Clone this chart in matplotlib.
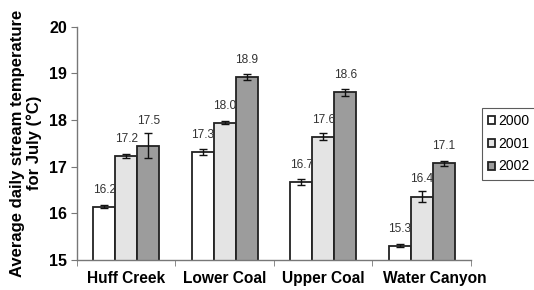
import numpy as np
import matplotlib
matplotlib.use('Agg')
import matplotlib.pyplot as plt
from matplotlib.transforms import ScaledTranslation

plt.rcParams['font.family'] = ['Liberation Sans', 'DejaVu Sans']

sites = ['Huff Creek', 'Lower Coal', 'Upper Coal', 'Water Canyon']
years = ['2000', '2001', '2002']
temp_2000 = [16.14, 17.31, 16.67, 15.31]
temp_2001 = [17.22, 17.94, 17.64, 16.36]
temp_2002 = [17.45, 18.92, 18.59, 17.07]
err_2000 = [0.03, 0.06, 0.07, 0.04]
err_2001 = [0.04, 0.03, 0.08, 0.11]
err_2002 = [0.27, 0.07, 0.08, 0.05]
labels_2000 = ['16.2', '17.3', '16.7', '15.3']
labels_2001 = ['17.2', '18.0', '17.6', '16.4']
labels_2002 = ['17.5', '18.9', '18.6', '17.1']

temps = [temp_2000, temp_2001, temp_2002]
errs = [err_2000, err_2001, err_2002]
labels = [labels_2000, labels_2001, labels_2002]
colors = ['white', '#e4e4e4', '#9c9c9c']

fig = plt.figure(figsize=(5.34, 2.90), dpi=100)
ax = fig.add_axes([0.144, 0.1034, 0.738, 0.805])

x = np.arange(len(sites))
w = 0.223
px = 5 / (0.805 * 290)  # data units per pixel on y

for i in range(3):
    pos = x + (i - 1) * w
    ax.bar(pos, temps[i], w, bottom=0, color=colors[i], edgecolor='#222222',
           linewidth=1.3, label=years[i], zorder=2)
    ax.errorbar(pos, temps[i], yerr=errs[i], fmt='none', ecolor='#111111',
                elinewidth=1.0, capsize=3.2, capthick=1.0, zorder=3)
    for j in range(len(sites)):
        yl = max(temps[i][j] + 17 * px, temps[i][j] + errs[i][j] + 12 * px)
        ax.text(pos[j], yl, labels[i][j], ha='center', va='center',
                fontsize=8.6, color='#333333')

ax.set_ylim(15, 20)
ax.set_xlim(-0.5, 3.5)
ax.set_yticks([15, 16, 17, 18, 19, 20])
ax.set_xticks(x)
ax.set_xticklabels(sites, fontsize=11.2, fontweight='bold')
ax.set_xticks(np.arange(-0.5, 4, 1), minor=True)
ax.tick_params(axis='x', which='major', length=0, pad=8)
ax.tick_params(axis='x', which='minor', length=4, color='#777777', direction='out')
ax.tick_params(axis='y', length=4, color='#777777', labelsize=11.5, pad=3)
for t in ax.get_yticklabels():
    t.set_fontweight('bold')
# last label sits a bit right of its group in the original
wc = ax.get_xticklabels()[3]
wc.set_transform(wc.get_transform() + ScaledTranslation(0.13, 0, fig.dpi_scale_trans))

for s in ['top', 'right']:
    ax.spines[s].set_visible(False)
for s in ['left', 'bottom']:
    ax.spines[s].set_color('#777777')
    ax.spines[s].set_linewidth(1.0)

ax.set_ylabel('Average daily stream temperature\nfor July (\u00b0C)', fontsize=12,
              fontweight='bold', linespacing=1.15, labelpad=5)

leg = fig.legend(loc='upper left', bbox_to_anchor=(482 / 534, 1 - 108 / 290),
                 bbox_transform=fig.transFigure, fontsize=10,
                 frameon=True, fancybox=False, edgecolor='#333333',
                 handlelength=0.5, handleheight=0.5, handletextpad=0.2,
                 labelspacing=0.62, borderpad=0.45, borderaxespad=0)
leg.get_frame().set_linewidth(0.8)

fig.savefig('out.png', dpi=100)
